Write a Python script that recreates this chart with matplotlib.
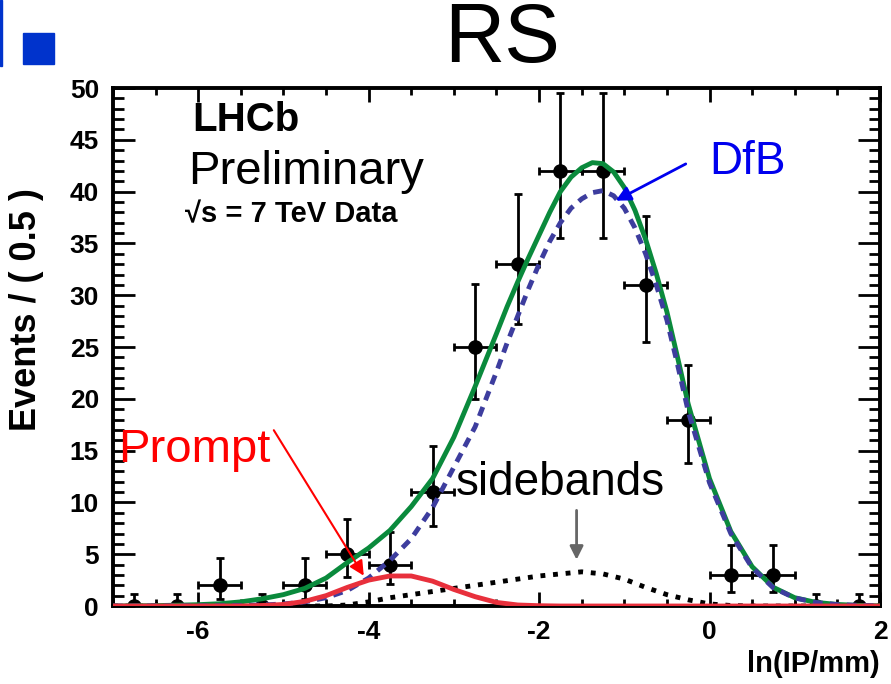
import numpy as np
import matplotlib.pyplot as plt
from matplotlib.ticker import MultipleLocator

plt.rcParams['font.family'] = ['Liberation Sans', 'DejaVu Sans']
plt.rcParams['axes.unicode_minus'] = False

# Data points (bin centres, width 0.5)
bin_x = np.arange(-6.75, 2.0, 0.5)
counts = [0, 0, 2, 0, 2, 5, 4, 11, 25, 33, 42, 42, 31, 18, 3, 3, 0, 0]
err_lo = [0, 0, 1.29, 0, 1.29, 2.16, 1.91, 3.3, 4.97, 5.73, 6.48, 6.48, 5.55, 4.22, 1.63, 1.63, 0, 0]
err_hi = [1.15, 1.15, 2.64, 1.15, 2.64, 3.38, 3.16, 4.4, 6.06, 6.8, 7.5, 7.5, 6.6, 5.3, 2.92, 2.92, 1.15, 1.15]

# Background curves on a 0.25 grid
curve_x = np.arange(-7.0, 2.01, 0.25)
prompt = [0, 0, 0, 0, 0, 0, 0,
          0.05, 0.15, 0.45, 1.0, 1.8, 2.5, 2.9, 2.9, 2.4, 1.6, 0.9, 0.35, 0.1, 0.03,
          0, 0, 0, 0, 0, 0, 0, 0, 0, 0, 0, 0, 0, 0, 0, 0]
sidebands = [0, 0, 0, 0, 0, 0, 0, 0, 0, 0, 0,
             0.1, 0.4, 0.8, 1.1, 1.4, 1.7, 2.0, 2.3, 2.6, 2.9, 3.1, 3.3, 3.1, 2.6,
             1.8, 1.1, 0.6, 0.2, 0.05,
             0, 0, 0, 0, 0, 0, 0]

# Total fit and DfB component, finer sampling around the peak
fit_x = [-7.0, -6.75, -6.5, -6.25, -6.0, -5.75, -5.5, -5.25, -5.0, -4.75,
         -4.5, -4.25, -4.0, -3.75, -3.5, -3.25, -3.0, -2.75,
         -2.5, -2.375, -2.25, -2.125, -2.0, -1.875, -1.75, -1.625, -1.5, -1.375,
         -1.25, -1.125, -1.0, -0.875, -0.75, -0.625, -0.5, -0.375, -0.25,
         0.0, 0.25, 0.5, 0.75, 1.0, 1.25, 1.5, 1.75, 2.0]
total = [0.0, 0.02, 0.04, 0.08, 0.13, 0.22, 0.4, 0.7, 1.1, 1.7,
         2.7, 4.2, 5.6, 7.3, 9.6, 12.3, 16.3, 21.2,
         26.3, 28.9, 31.3, 33.6, 35.8, 38.0, 40.0, 41.4, 42.3, 42.8,
         42.7, 41.9, 40.4, 38.2, 35.4, 32.1, 28.4, 24.0, 19.5,
         12.3, 7.2, 3.8, 1.8, 0.8, 0.35, 0.15, 0.06, 0.02]
dfb = [0.0, 0.0, 0.01, 0.01, 0.02, 0.03, 0.05, 0.1, 0.2, 0.4,
       0.8, 1.5, 2.7, 4.4, 6.5, 9.5, 13.4, 17.3,
       22.6, 25.4, 28.0, 30.6, 33.0, 35.2, 37.0, 38.4, 39.3, 39.9,
       40.1, 39.6, 38.4, 36.5, 34.0, 31.0, 27.6, 23.3, 18.8,
       11.9, 7.0, 3.7, 1.75, 0.78, 0.34, 0.14, 0.06, 0.02]

fig = plt.figure(figsize=(8.91, 6.84), dpi=100)
ax = fig.add_axes([0.1268, 0.114, 0.8608, 0.7573])

ax.errorbar(bin_x, counts, xerr=0.25, yerr=[err_lo, err_hi], fmt='o', color='black',
            markersize=9.5, elinewidth=2, capsize=3, capthick=2, zorder=2)

ax.plot(curve_x, sidebands, color='black', lw=3.5, linestyle=(0, (1.0, 1.6)), zorder=3)
ax.plot(fit_x, total, color='#0a8a3c', lw=3.5, zorder=3)
ax.plot(fit_x, dfb, color='#3d3d9e', lw=3.5, linestyle=(0, (2.0, 1.5)), zorder=3)
ax.plot(curve_x, prompt, color='#e8303c', lw=3.5, zorder=3)

ax.set_xlim(-7, 2)
ax.set_ylim(0, 50)
ax.xaxis.set_major_locator(MultipleLocator(2))
ax.xaxis.set_minor_locator(MultipleLocator(0.5))
ax.yaxis.set_major_locator(MultipleLocator(5))
ax.yaxis.set_minor_locator(MultipleLocator(1))
ax.tick_params(which='both', direction='in', top=True, right=True, width=2)
ax.tick_params(axis='x', which='major', length=10, pad=10)
ax.tick_params(axis='x', which='minor', length=5)
ax.tick_params(axis='y', which='major', length=16, pad=10)
ax.tick_params(axis='y', which='minor', length=8)
ax.tick_params(labelsize=19)
for lab in ax.get_xticklabels() + ax.get_yticklabels():
    lab.set_fontweight('bold')
for sp in ax.spines.values():
    sp.set_linewidth(2.8)

fig.text(27 / 891, 1 - 310 / 684, 'Events / ( 0.5 )', rotation=90, fontsize=26,
         fontweight='bold', ha='center', va='center')
fig.text(880 / 891, 1 - 664 / 684, 'ln(IP/mm)', fontsize=21, fontweight='bold',
         ha='right', va='center')

ax.text(0.103, 0.938, 'LHCb', transform=ax.transAxes, fontsize=29, fontweight='bold', va='center')
ax.text(0.098, 0.838, 'Preliminary', transform=ax.transAxes, fontsize=34, va='center')
ax.text(0.094, 0.757, '\u221as = 7 TeV Data', transform=ax.transAxes, fontsize=21,
        fontweight='bold', va='center')

ax.text(0.0, 42.9, 'DfB', color='#0000ee', fontsize=33, va='center')
ax.annotate('', xy=(-1.13, 39.0), xytext=(-0.25, 42.8),
            arrowprops=dict(arrowstyle='-|>', color='#0000ee', lw=2, mutation_scale=22))
ax.text(-6.94, 15.1, 'Prompt', color='#ff0000', fontsize=34, va='center')
ax.annotate('', xy=(-4.04, 2.7), xytext=(-5.13, 17.2),
            arrowprops=dict(arrowstyle='-|>', color='#ff0000', lw=1.5, mutation_scale=22))
ax.text(-2.98, 11.9, 'sidebands', color='black', fontsize=33, va='center')
ax.annotate('', xy=(-1.56, 4.2), xytext=(-1.56, 9.5),
            arrowprops=dict(arrowstyle='-|>', color='#666666', lw=2, mutation_scale=20))

fig.text(502 / 891, 1 - 40 / 684, 'RS', fontsize=60, ha='center', va='center')
fig.patches.append(plt.Rectangle((0, 1 - 66 / 684), 2 / 891, 66 / 684,
                                 transform=fig.transFigure, color='#0033cc'))
fig.patches.append(plt.Rectangle((23 / 891, 1 - 64 / 684), 31 / 891, 31 / 684,
                                 transform=fig.transFigure, color='#0033cc'))

fig.savefig('out.png', dpi=100)
